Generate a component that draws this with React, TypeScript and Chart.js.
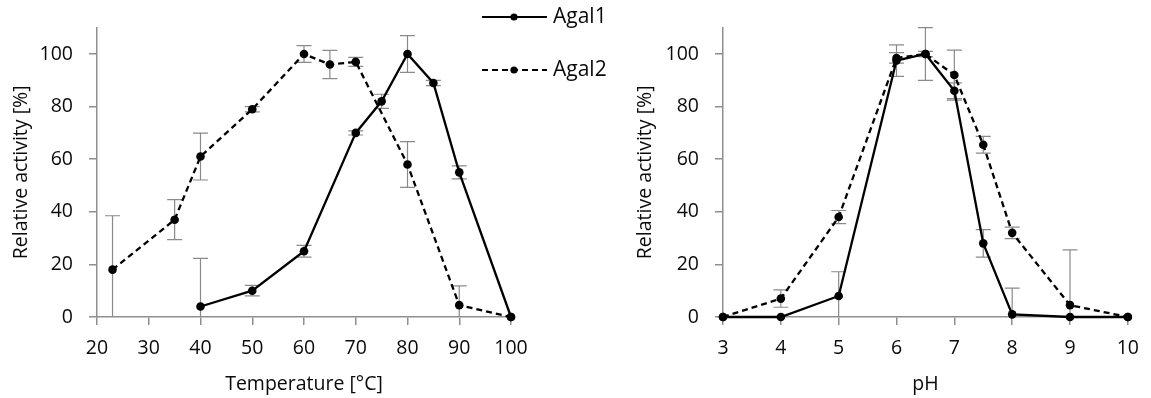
import React, { useEffect, useRef } from "react";
import { Chart, registerables } from "chart.js";

Chart.register(...registerables);

// ---------- data ----------
const tempAgal1X = [40, 50, 60, 70, 75, 80, 85, 90, 100];
const tempAgal1Y = [4, 10, 25, 70, 82, 100, 89, 55, 0];
const tempAgal1Err = [18.3, 2, 2.2, 0.8, 2.7, 7, 1, 2.5, 0];

const tempAgal2X = [23, 35, 40, 50, 60, 65, 70, 80, 90, 100];
const tempAgal2Y = [18, 37, 61, 79, 100, 96, 97, 58, 4.5, 0];
const tempAgal2Err = [20.5, 7.6, 8.9, 1, 3.2, 5.4, 1.7, 8.7, 7.3, 0];

const phAgal1X = [3, 4, 5, 6, 6.5, 7, 7.5, 8, 9, 10];
const phAgal1Y = [0, 0, 8, 97.5, 100, 86, 28, 1, 0, 0];
const phAgal1Err = [0, 0, 9.2, 6, 10, 3, 5.2, 10, 0, 0];

const phAgal2X = [3, 4, 5, 6, 6.5, 7, 7.5, 8, 9, 10];
const phAgal2Y = [0, 7, 38, 98.5, 100, 92, 65.5, 32, 4.5, 0];
const phAgal2Err = [0, 3.3, 2.5, 2, 1, 9.5, 3.2, 2.2, 21, 0];

const yTickValues = [0, 20, 40, 60, 80, 100];
const seriesNames = ["Agal1", "Agal2"];
const yTitle = "Relative activity [%]";
const xTitleTemp = "Temperature [°C]";
const xTitlePh = "pH";

// ---------- styles ----------
const FONT = '"Open Sans", "DejaVu Sans", sans-serif';
const TEXT = "#0a0a0a";
const AXIS = "#8f8f8f";
const ERR = "#8a8a8a";
const FS = 19.5;

const zip = (xs: number[], ys: number[]) => xs.map((x, i) => ({ x, y: ys[i] }));

const errorBarPlugin = {
  id: "errorBars",
  beforeDatasetsDraw(chart: any) {
    const ctx = chart.ctx;
    const xs = chart.scales.x;
    const ys = chart.scales.y;
    ctx.save();
    ctx.strokeStyle = ERR;
    ctx.lineWidth = 1.2;
    chart.data.datasets.forEach((ds: any) => {
      const errs: number[] = ds.errors;
      if (!errs) return;
      ds.data.forEach((p: any, j: number) => {
        const e = errs[j];
        if (!e) return;
        const px = xs.getPixelForValue(p.x);
        const hi = p.y + e;
        const lo = p.y - e;
        const yHi = ys.getPixelForValue(Math.min(hi, ys.max));
        const yLo = ys.getPixelForValue(Math.max(lo, ys.min));
        ctx.beginPath();
        ctx.moveTo(px, yHi);
        ctx.lineTo(px, yLo);
        if (hi <= ys.max) {
          ctx.moveTo(px - 7.5, yHi);
          ctx.lineTo(px + 7.5, yHi);
        }
        if (lo >= ys.min) {
          ctx.moveTo(px - 7.5, yLo);
          ctx.lineTo(px + 7.5, yLo);
        }
        ctx.stroke();
      });
    });
    ctx.restore();
  },
};

const legendPlugin = {
  id: "sideLegend",
  afterDraw(chart: any) {
    const ctx = chart.ctx;
    chart.data.datasets.forEach((ds: any, i: number) => {
      const y = 17 + i * 53;
      ctx.save();
      ctx.strokeStyle = ds.borderColor;
      ctx.lineWidth = 2;
      ctx.setLineDash(ds.borderDash || []);
      ctx.beginPath();
      ctx.moveTo(482, y);
      ctx.lineTo(547, y);
      ctx.stroke();
      ctx.setLineDash([]);
      ctx.fillStyle = ds.pointBackgroundColor;
      ctx.beginPath();
      ctx.arc(514, y, 3.6, 0, Math.PI * 2);
      ctx.fill();
      ctx.font = `21px ${FONT}`;
      ctx.textBaseline = "middle";
      ctx.textAlign = "left";
      ctx.fillStyle = TEXT;
      ctx.fillText(ds.label, 553, y);
      ctx.restore();
    });
  },
};

function makeDatasets(x1: number[], y1: number[], e1: number[], x2: number[], y2: number[], e2: number[]) {
  const common = {
    borderColor: "#000",
    backgroundColor: "#000",
    pointBackgroundColor: "#000",
    pointBorderColor: "#000",
    borderWidth: 2.3,
    pointRadius: 4.3,
    pointBorderWidth: 0,
    tension: 0,
    clip: false as any,
    fill: false,
  };
  return [
    { ...common, label: seriesNames[0], data: zip(x1, y1), errors: e1 },
    { ...common, label: seriesNames[1], data: zip(x2, y2), errors: e2, borderDash: [6, 4] },
  ];
}

function makeOptions(opts: {
  xMin: number;
  xMax: number;
  xStep: number;
  xTitle: string;
  yWidth: number;
  padRight: number;
  yTitlePad: number;
}) {
  return {
    responsive: false,
    animation: false as const,
    events: [] as any[],
    layout: { padding: { top: 25, right: opts.padRight, left: 0, bottom: 0 } },
    plugins: { legend: { display: false }, tooltip: { enabled: false } },
    scales: {
      x: {
        type: "linear" as const,
        min: opts.xMin,
        max: opts.xMax,
        ticks: { stepSize: opts.xStep, color: TEXT, font: { size: FS, family: FONT }, padding: 12, maxRotation: 0 },
        grid: { display: true, drawOnChartArea: false, drawTicks: true, tickLength: 8, color: AXIS, lineWidth: 1.5 },
        border: { display: true, color: AXIS, width: 1.5 },
        title: { display: true, text: opts.xTitle, color: TEXT, font: { size: FS, family: FONT }, padding: { top: 0, bottom: 2 } },
        afterFit(scale: any) {
          scale.height = 81;
        },
      },
      y: {
        type: "linear" as const,
        min: 0,
        max: 110,
        ticks: { color: TEXT, font: { size: FS, family: FONT }, padding: 16 },
        afterBuildTicks(scale: any) {
          scale.ticks = yTickValues.map((v) => ({ value: v }));
        },
        grid: { display: true, drawOnChartArea: false, drawTicks: true, tickLength: 8, color: AXIS, lineWidth: 1.5 },
        border: { display: true, color: AXIS, width: 1.5 },
        title: { display: true, text: yTitle, color: TEXT, font: { size: FS, family: FONT }, padding: { top: opts.yTitlePad, bottom: 0 } },
        afterFit(scale: any) {
          scale.width = opts.yWidth;
        },
      },
    },
  };
}

export default function App() {
  const leftRef = useRef<HTMLCanvasElement>(null);
  const rightRef = useRef<HTMLCanvasElement>(null);

  useEffect(() => {
    Chart.defaults.font.family = FONT;
    const left = new Chart(leftRef.current as HTMLCanvasElement, {
      type: "line",
      data: {
        datasets: makeDatasets(tempAgal1X, tempAgal1Y, tempAgal1Err, tempAgal2X, tempAgal2Y, tempAgal2Err) as any,
      },
      options: makeOptions({ xMin: 20, xMax: 100, xStep: 10, xTitle: xTitleTemp, yWidth: 97, padRight: 189, yTitlePad: 10 }) as any,
      plugins: [errorBarPlugin, legendPlugin],
    });
    const right = new Chart(rightRef.current as HTMLCanvasElement, {
      type: "line",
      data: {
        datasets: makeDatasets(phAgal1X, phAgal1Y, phAgal1Err, phAgal2X, phAgal2Y, phAgal2Err) as any,
      },
      options: makeOptions({ xMin: 3, xMax: 10, xStep: 1, xTitle: xTitlePh, yWidth: 103, padRight: 14, yTitlePad: 14 }) as any,
      plugins: [errorBarPlugin],
    });
    return () => {
      left.destroy();
      right.destroy();
    };
  }, []);

  return (
    <div style={{ position: "absolute", left: 0, top: 0, width: 1151, height: 398, background: "#fff" }}>
      <canvas ref={leftRef} width={700} height={398} style={{ position: "absolute", left: 0, top: 0, width: 700, height: 398 }} />
      <canvas ref={rightRef} width={531} height={398} style={{ position: "absolute", left: 620, top: 0, width: 531, height: 398 }} />
    </div>
  );
}
